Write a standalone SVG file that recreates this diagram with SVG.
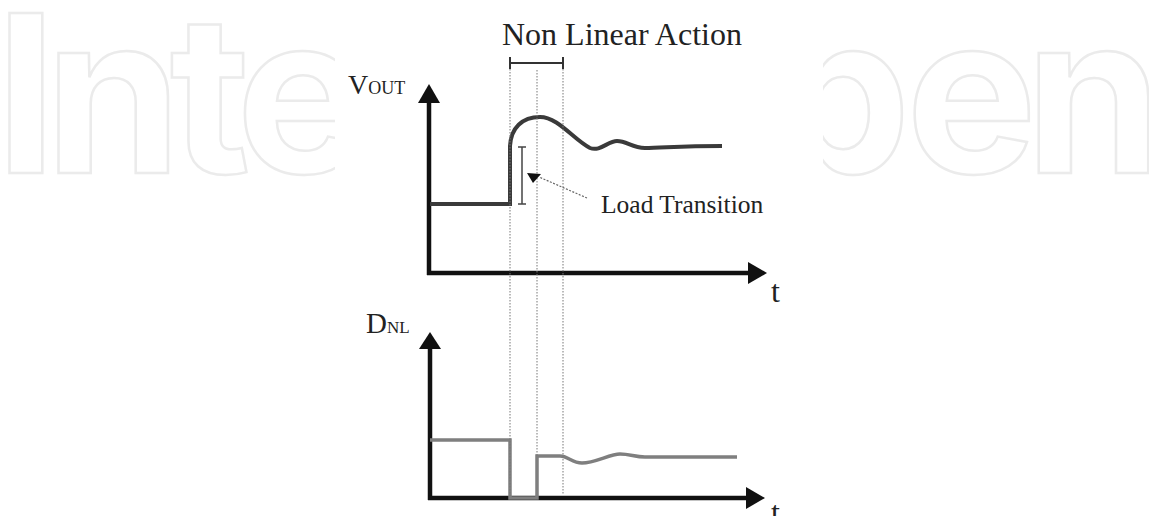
<svg xmlns="http://www.w3.org/2000/svg" width="1149" height="516" viewBox="0 0 1149 516">
<style>
.wm{font-family:Inter,"Noto Sans",sans-serif;font-size:220px;font-weight:700;fill:#ffffff;stroke:#ebebeb;stroke-width:2.5;letter-spacing:-12px}
.axis{stroke:#111;stroke-width:4.5;fill:none}
.head{fill:#111}
.dot{stroke:#777;stroke-width:1;stroke-dasharray:1.5 1.5;fill:none}
.serif{font-family:"Liberation Serif","Times New Roman",serif;fill:#222}
</style>
<rect width="1149" height="516" fill="#ffffff"/>
<g id="watermark">
<text class="wm" x="-5" y="173">Inte</text>
<text class="wm" x="772" y="173">p</text>
<text class="wm" x="1150" y="173" text-anchor="end">en</text>
<rect x="335" y="0" width="488" height="516" fill="#ffffff"/>
</g>
<g id="title">
<text class="serif" x="502" y="45" font-size="32">Non Linear Action</text>
</g>
<g id="vout-plot">
<text class="serif" x="348" y="94" font-size="28">V<tspan font-size="18">OUT</tspan></text>
<line class="axis" x1="429" y1="275" x2="429" y2="100"/>
<polygon class="head" points="418,103 429,84 440,103"/>
<line class="axis" x1="427" y1="273" x2="750" y2="273"/>
<polygon class="head" points="748,262 767,273 748,284"/>
<text class="serif" x="771" y="302" font-size="32">t</text>
<path d="M 430 204 H 510 V 146 C 511 128 522 117 540 117 C 558 117 574 140 590 148 C 600 152 608 141 617 141 C 627 141 632 148 645 148 C 662 148 680 146 722 146" fill="none" stroke="#3a3a3a" stroke-width="4"/>
</g>
<g id="dnl-plot">
<text class="serif" x="366" y="333" font-size="29">D<tspan font-size="17">NL</tspan></text>
<line class="axis" x1="430" y1="500" x2="430" y2="346"/>
<polygon class="head" points="419,349 430,332 441,349"/>
<line class="axis" x1="428" y1="498" x2="748" y2="498"/>
<polygon class="head" points="746,487 765,498 746,509"/>
<text class="serif" x="771" y="523" font-size="32">t</text>
<path d="M 430 440 H 510 V 498 H 537 V 456 H 560 C 568 456 572 463 582 463 C 595 463 610 454 620 454 C 630 454 635 457 645 457 H 737" fill="none" stroke="#7f7f7f" stroke-width="3.5"/>
</g>
<g id="connectors">
<line class="dot" x1="510" y1="63" x2="510" y2="498"/>
<line class="dot" x1="563" y1="63" x2="563" y2="495"/>
<line class="dot" x1="537" y1="70" x2="537" y2="456"/>
<g stroke="#333" stroke-width="2">
<line x1="510" y1="63" x2="563" y2="63"/>
<line x1="510" y1="57" x2="510" y2="69"/>
<line x1="563" y1="57" x2="563" y2="69"/>
</g>
<g stroke="#444" stroke-width="1.5">
<line x1="522" y1="147" x2="522" y2="204"/>
<line x1="518" y1="147" x2="526" y2="147"/>
<line x1="518" y1="204" x2="526" y2="204"/>
</g>
<line x1="587" y1="198" x2="539" y2="177" stroke="#666" stroke-width="1.2" stroke-dasharray="2 1.5"/>
<polygon points="527,173 541,174 533,183" fill="#111"/>
</g>
<g id="load-label">
<text class="serif" x="601" y="213" font-size="25.5">Load Transition</text>
</g>
</svg>
